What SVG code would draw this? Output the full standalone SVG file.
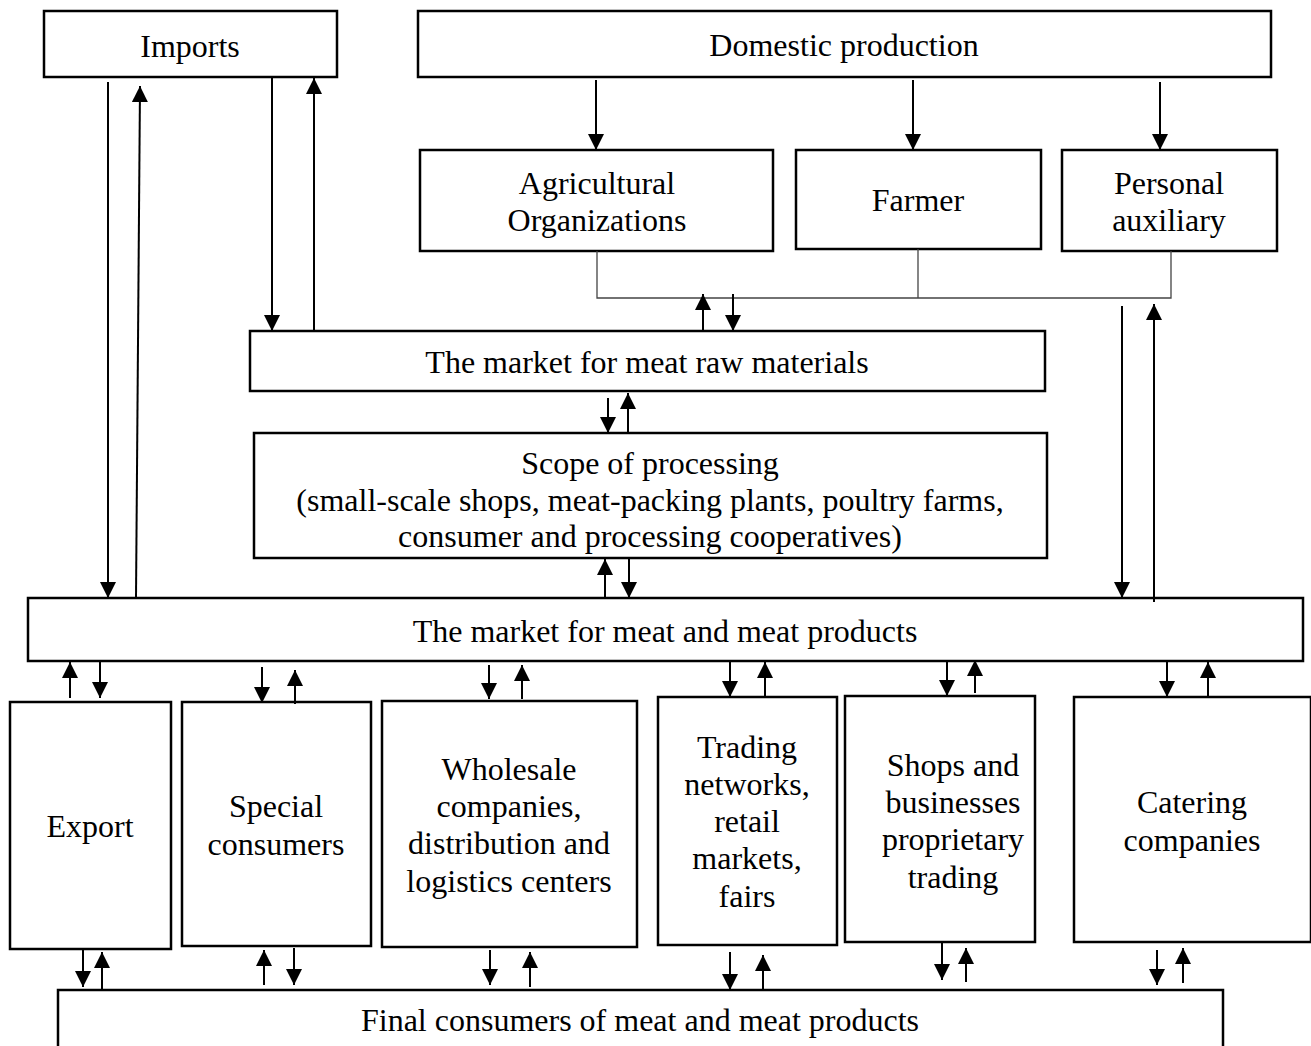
<svg xmlns="http://www.w3.org/2000/svg" width="1311" height="1046" viewBox="0 0 1311 1046">
<style>
.box{fill:#fff;stroke:#000;stroke-width:2.5}
.t{font-family:"Liberation Serif","Times New Roman",serif;font-size:32px;fill:#000;text-anchor:middle}
.c{stroke:#000;stroke-width:2;fill:none}
.thin{stroke:#444;stroke-width:1.3;fill:none}
</style>
<defs>
<marker id="ah" markerUnits="userSpaceOnUse" markerWidth="16" markerHeight="16" viewBox="0 0 16 16" refX="16" refY="8" orient="auto">
<path d="M0,0 L16,8 L0,16 Z" fill="#000"/>
</marker>
</defs>
<rect width="1311" height="1046" fill="#fff"/>

<g id="imports"><rect class="box" x="44" y="11" width="293" height="66"/><text class="t" x="190" y="57">Imports</text></g>
<g id="domestic"><rect class="box" x="418" y="11" width="853" height="66"/><text class="t" x="844" y="56">Domestic production</text></g>
<g id="agri"><rect class="box" x="420" y="150" width="353" height="101"/><text class="t" x="597" y="194">Agricultural</text><text class="t" x="597" y="231">Organizations</text></g>
<g id="farmer"><rect class="box" x="796" y="150" width="245" height="99"/><text class="t" x="918" y="211">Farmer</text></g>
<g id="personal"><rect class="box" x="1062" y="150" width="215" height="101"/><text class="t" x="1169" y="194">Personal</text><text class="t" x="1169" y="231">auxiliary</text></g>
<g id="rawmarket"><rect class="box" x="250" y="331" width="795" height="60"/><text class="t" x="647" y="373">The market for meat raw materials</text></g>
<g id="processing"><rect class="box" x="254" y="433" width="793" height="125"/><text class="t" x="650" y="474">Scope of processing</text><text class="t" x="650" y="511">(small-scale shops, meat-packing plants, poultry farms,</text><text class="t" x="650" y="547">consumer and processing cooperatives)</text></g>
<g id="meatmarket"><rect class="box" x="28" y="598" width="1275" height="63"/><text class="t" x="665" y="642">The market for meat and meat products</text></g>
<g id="export"><rect class="box" x="10" y="702" width="161" height="247"/><text class="t" x="90" y="837">Export</text></g>
<g id="special"><rect class="box" x="182" y="702" width="189" height="244"/><text class="t" x="276" y="817">Special</text><text class="t" x="276" y="855">consumers</text></g>
<g id="wholesale"><rect class="box" x="382" y="701" width="255" height="246"/><text class="t" x="509" y="780">Wholesale</text><text class="t" x="509" y="817">companies,</text><text class="t" x="509" y="854">distribution and</text><text class="t" x="509" y="892">logistics centers</text></g>
<g id="trading"><rect class="box" x="658" y="697" width="179" height="248"/><text class="t" x="747" y="758">Trading</text><text class="t" x="747" y="795">networks,</text><text class="t" x="747" y="832">retail</text><text class="t" x="747" y="869">markets,</text><text class="t" x="747" y="907">fairs</text></g>
<g id="shops"><rect class="box" x="845" y="696" width="190" height="246"/><text class="t" x="953" y="776">Shops and</text><text class="t" x="953" y="813">businesses</text><text class="t" x="953" y="850">proprietary</text><text class="t" x="953" y="888">trading</text></g>
<g id="catering"><rect class="box" x="1074" y="697" width="237" height="245"/><text class="t" x="1192" y="813">Catering</text><text class="t" x="1192" y="851">companies</text></g>
<g id="final"><rect class="box" x="58" y="990" width="1165" height="70"/><text class="t" x="640" y="1031">Final consumers of meat and meat products</text></g>

<g id="connectors">
<polyline class="thin" points="597,251 597,298 1171,298 1171,251"/>
<line class="thin" x1="918" y1="249" x2="918" y2="298"/>

<line class="c" x1="596" y1="80" x2="596" y2="150" marker-end="url(#ah)"/>
<line class="c" x1="913" y1="80" x2="913" y2="150" marker-end="url(#ah)"/>
<line class="c" x1="1160" y1="82" x2="1160" y2="150" marker-end="url(#ah)"/>

<line class="c" x1="703" y1="331" x2="703" y2="294" marker-end="url(#ah)"/>
<line class="c" x1="733" y1="294" x2="733" y2="331" marker-end="url(#ah)"/>

<line class="c" x1="108" y1="82" x2="108" y2="598" marker-end="url(#ah)"/>
<line class="c" x1="136" y1="598" x2="140" y2="86" marker-end="url(#ah)"/>
<line class="c" x1="272" y1="78" x2="272" y2="331" marker-end="url(#ah)"/>
<line class="c" x1="314" y1="331" x2="314" y2="78" marker-end="url(#ah)"/>

<line class="c" x1="1122" y1="306" x2="1122" y2="598" marker-end="url(#ah)"/>
<line class="c" x1="1154" y1="602" x2="1154" y2="304" marker-end="url(#ah)"/>

<line class="c" x1="608" y1="398" x2="608" y2="433" marker-end="url(#ah)"/>
<line class="c" x1="628" y1="433" x2="628" y2="393" marker-end="url(#ah)"/>

<line class="c" x1="605" y1="598" x2="605" y2="559" marker-end="url(#ah)"/>
<line class="c" x1="629" y1="559" x2="629" y2="598" marker-end="url(#ah)"/>

<line class="c" x1="70" y1="698" x2="70" y2="662" marker-end="url(#ah)"/>
<line class="c" x1="100" y1="662" x2="100" y2="698" marker-end="url(#ah)"/>
<line class="c" x1="262" y1="667" x2="262" y2="703" marker-end="url(#ah)"/>
<line class="c" x1="295" y1="704" x2="295" y2="670" marker-end="url(#ah)"/>
<line class="c" x1="489" y1="665" x2="489" y2="699" marker-end="url(#ah)"/>
<line class="c" x1="522" y1="699" x2="522" y2="665" marker-end="url(#ah)"/>
<line class="c" x1="730" y1="662" x2="730" y2="697" marker-end="url(#ah)"/>
<line class="c" x1="765" y1="697" x2="765" y2="662" marker-end="url(#ah)"/>
<line class="c" x1="947" y1="660" x2="947" y2="696" marker-end="url(#ah)"/>
<line class="c" x1="975" y1="693" x2="975" y2="660" marker-end="url(#ah)"/>
<line class="c" x1="1167" y1="661" x2="1167" y2="697" marker-end="url(#ah)"/>
<line class="c" x1="1208" y1="697" x2="1208" y2="662" marker-end="url(#ah)"/>

<line class="c" x1="83" y1="950" x2="83" y2="987" marker-end="url(#ah)"/>
<line class="c" x1="102" y1="990" x2="102" y2="952" marker-end="url(#ah)"/>
<line class="c" x1="264" y1="985" x2="264" y2="950" marker-end="url(#ah)"/>
<line class="c" x1="294" y1="948" x2="294" y2="985" marker-end="url(#ah)"/>
<line class="c" x1="490" y1="950" x2="490" y2="985" marker-end="url(#ah)"/>
<line class="c" x1="530" y1="987" x2="530" y2="952" marker-end="url(#ah)"/>
<line class="c" x1="730" y1="952" x2="730" y2="990" marker-end="url(#ah)"/>
<line class="c" x1="763" y1="990" x2="763" y2="955" marker-end="url(#ah)"/>
<line class="c" x1="942" y1="943" x2="942" y2="980" marker-end="url(#ah)"/>
<line class="c" x1="966" y1="982" x2="966" y2="948" marker-end="url(#ah)"/>
<line class="c" x1="1157" y1="950" x2="1157" y2="985" marker-end="url(#ah)"/>
<line class="c" x1="1183" y1="983" x2="1183" y2="948" marker-end="url(#ah)"/>
</g>
</svg>
